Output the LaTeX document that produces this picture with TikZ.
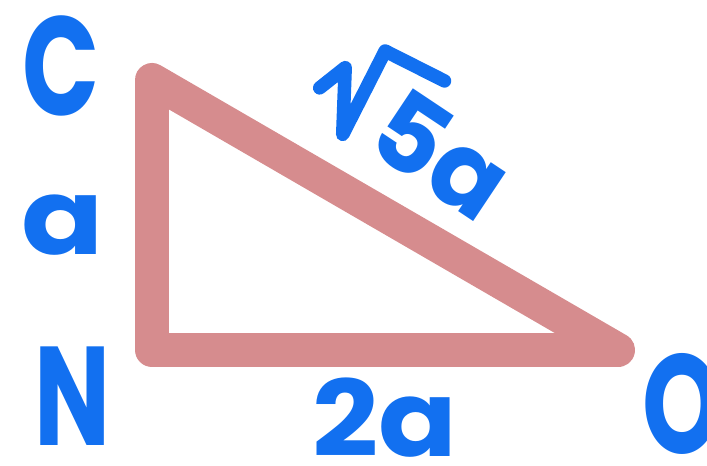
\documentclass[tikz,border=0pt]{standalone}
\usepackage{fontspec}
\newfontfamily\handfont{Poppins}[UprightFont=* Bold]
\definecolor{edgepink}{RGB}{214,140,142}
\definecolor{labelblue}{RGB}{18,112,240}

\begin{document}
\begin{tikzpicture}[
    x=0.02cm,
    y=-0.02cm,
    line cap=round,
    line join=round,
    edge/.style={
      draw=edgepink,
      line width=0.68cm
    },
    vertexlabel/.style={
      text=labelblue,
      font=\handfont\fontsize{80}{84}\selectfont,
      xscale=0.72,
      inner sep=0pt
    },
    sidelabel/.style={
      text=labelblue,
      font=\handfont\fontsize{60}{64}\selectfont,
      inner sep=0pt
    },
    radical/.style={
      draw=labelblue,
      line width=0.27cm
    }
]
\useasboundingbox (0,0) rectangle (707,466);

% Corners of the right triangle.
\coordinate (C) at (152,80);
\coordinate (N) at (152,350);
\coordinate (O) at (618,350);
\draw[edge] (C) -- (N) -- (O) -- cycle;

% Vertex names.
\node[vertexlabel] (labelC) at (61,66) {C};
\node[vertexlabel] (labelN) at (73,396) {N};
\node[vertexlabel] (labelO) at (682,404) {O};

% Side lengths.
\node[sidelabel,xscale=1.15] (sideCN) at (63,225) {a};
\node[sidelabel,xscale=1.1] (sideNO) at (385,418) {2a};
\node[sidelabel,rotate=-33.7] (sideCO) at (442,155) {5a};

% Hand-drawn root sign over the 5.
\begin{scope}[shift={(sideCO.center)},rotate=-33.7]
  \draw[radical] (-139,12) -- (-129,-19) -- (-94,38) -- (-105,-55) -- (-39,-63);
\end{scope}

\end{tikzpicture}
\end{document}
